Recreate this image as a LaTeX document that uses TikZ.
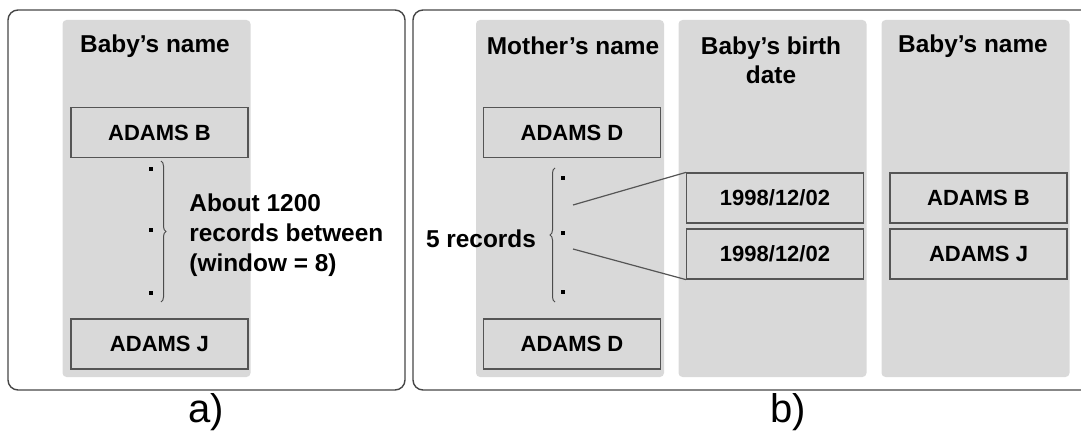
\documentclass[tikz,border=0pt]{standalone}
\usepackage{fontspec}
\setmainfont{Liberation Sans}
\usetikzlibrary{decorations.pathreplacing}
\definecolor{colgrey}{RGB}{217,217,217}
\definecolor{framegrey}{RGB}{70,70,70}
\definecolor{boxline}{RGB}{85,85,85}

\begin{document}
\begin{tikzpicture}[x=0.5pt,y=-0.5pt,
    column/.style={fill=colgrey,rounded corners=2pt,minimum width=94pt,minimum height=178.5pt,inner sep=0pt},
    head/.style={font=\fontsize{12.2}{14.5}\selectfont\bfseries,align=center,inner sep=0pt},
    rec/.style={draw=boxline,fill=colgrey,line width=0.6pt,minimum width=88.5pt,minimum height=25pt,inner sep=0pt,font=\fontsize{11}{12}\selectfont\bfseries},
    dot/.style={fill=black,minimum size=1.6pt,inner sep=0pt},
    frame/.style={draw=framegrey,line width=0.7pt,rounded corners=5pt},
    brc/.style={decorate,decoration={brace,amplitude=2.5pt},draw=black!70,line width=0.5pt},
    tag/.style={font=\fontsize{20}{22}\selectfont,inner sep=0pt}
]
\useasboundingbox (0,0) rectangle (1081,438);
\clip (0,0) rectangle (1081,438);

% outer frames
\draw[frame] (8,10) rectangle (405,390);
\draw[frame] (413,10) rectangle (1100,390);
\node[tag] (taga) at (206,412) {a)};
\node[tag] (tagb) at (788,412) {b)};

% grey columns
\foreach \n/\x in {cola/156.5, colm/570, cold/772.5, colb/975.5} {
    \node[column] (\n) at (\x,198.5) {};
}

% a) sorted by baby's name
\node[head] (heada) at (155,46) {Baby's name};
\node[rec] (adamsb) at (159.5,132.5) {ADAMS B};
\node[rec] (adamsj) at (159.5,344) {ADAMS J};
\foreach \y [count=\i] in {169,230,293} {
    \node[dot] (da\i) at (151,\y) {};
}
\draw[brc] (161,161) -- (161,302);
\node[head,anchor=west,align=left,font=\fontsize{12.2}{15}\selectfont\bfseries] (about) at (189,235)
    {About 1200\\records between\\(window = 8)};

% b) sorted by mother's name
\node[head] (headm) at (573,46) {Mother's name};
\node[head] (headd) at (771,60.5) {Baby's birth\\date};
\node[head] (headb) at (973,46) {Baby's name};
\node[rec] (adamsd1) at (572,132.5) {ADAMS D};
\node[rec] (adamsd2) at (572,344) {ADAMS D};
\foreach \y [count=\i] in {178,233,292} {
    \node[dot] (dm\i) at (563,\y) {};
}
\draw[brc] (555,302) -- (555,168);
\node[head] (five) at (481,239) {5 records};

\node[rec] (date1) at (775,198) {1998/12/02};
\node[rec] (date2) at (775,254) {1998/12/02};
\node[rec] (bb) at (978.5,198) {ADAMS B};
\node[rec] (bj) at (978.5,254) {ADAMS J};

\coordinate (from1) at (573,205);
\coordinate (from2) at (573,249);
\draw[boxline,line width=0.6pt] (from1) -- (date1.north west);
\draw[boxline,line width=0.6pt] (from2) -- (date2.south west);
\end{tikzpicture}
\end{document}
